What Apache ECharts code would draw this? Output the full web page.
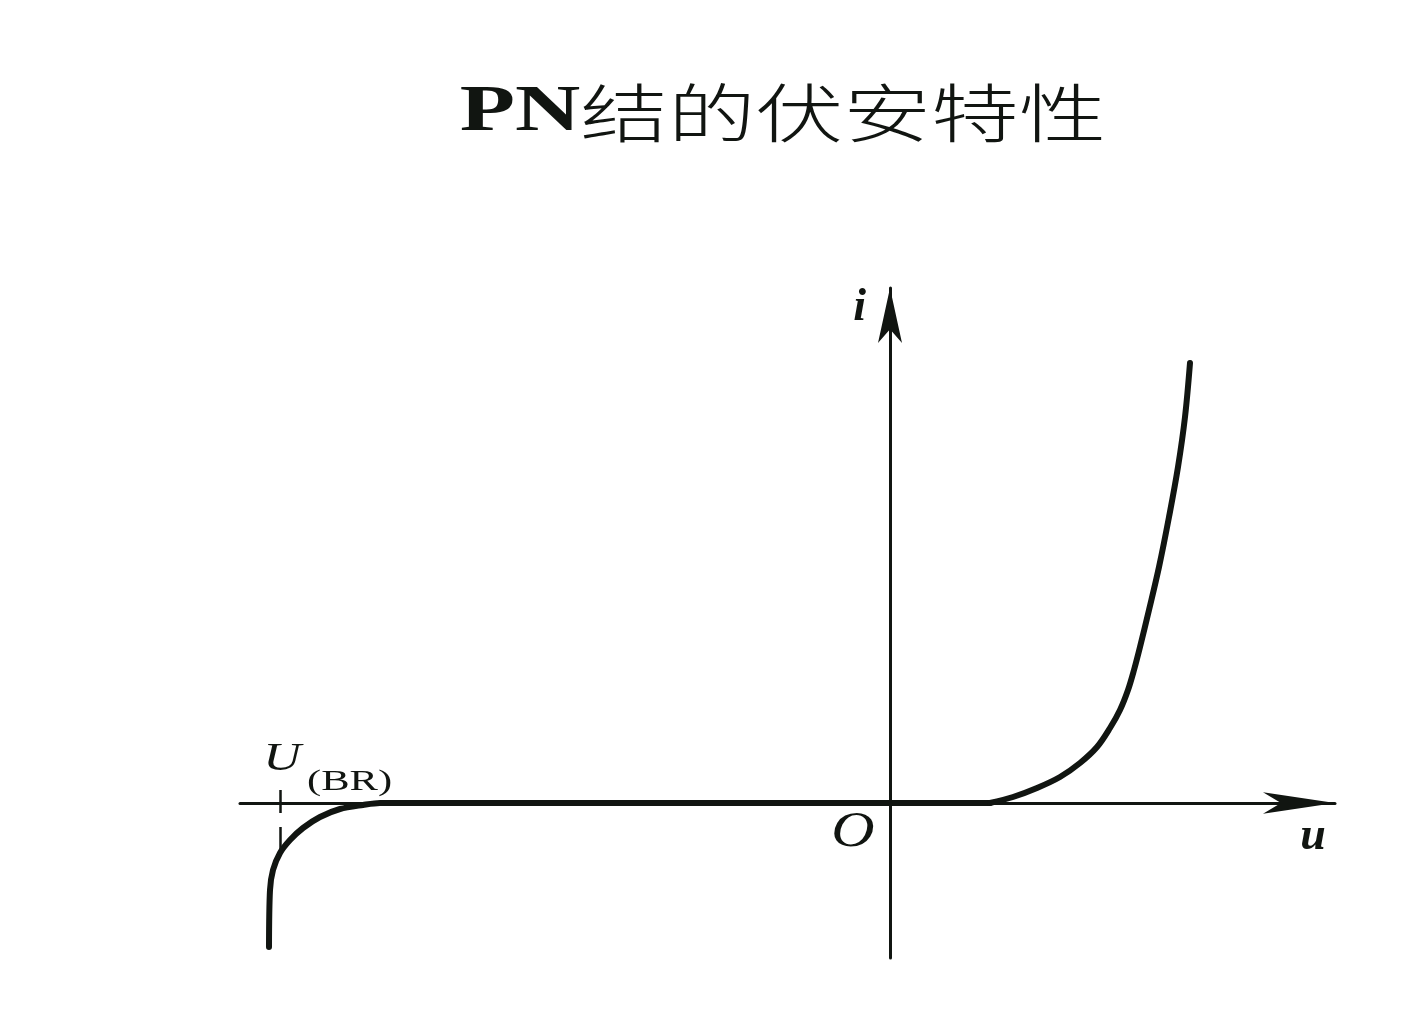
<!DOCTYPE html>
<html>
<head>
<meta charset="utf-8">
<script src="https://cdn.jsdelivr.net/npm/echarts@6/dist/echarts.min.js"></script>
<style>
html,body{margin:0;padding:0;background:#ffffff;}
#chart{width:1402px;height:1017px;}
</style>
</head>
<body>
<div id="chart"></div>
<script>
// ---- data (schematic units) ----
const titlePN = 'PN';
const titleCN = '结的伏安特性';
const xAxisName = 'u';
const yAxisName = 'i';
const originLabel = 'O';
const breakdownMain = 'U';
const breakdownSub = '(BR)';

// reverse branch: breakdown knee, then the flat (near-zero) reverse current
const reverseU = [-62.1, -62.0, -61.7, -61.0, -60.0, -58.7, -57.0, -55.0, -52.7, -51.0, 10.0];
const reverseI = [-14.4, -8.7, -6.7, -5.0, -3.7, -2.5, -1.4, -0.6, -0.2, 0, 0];

// forward branch
const forwardU = [10.0, 12.3, 14.7, 17.0, 19.0, 20.7, 22.0, 23.0, 23.8, 24.4, 25.0, 25.9, 26.9, 27.9, 28.8, 29.5, 30.0];
const forwardI = [0, 0.6, 1.5, 2.6, 4.0, 5.6, 7.5, 9.3, 11.3, 13.3, 15.6, 19.3, 23.6, 28.6, 33.6, 38.6, 44.0];

// breakdown voltage marker (dashed tick)
const breakdownU = -61;
const breakdownTickI = [1.3, -4.7];

// axis ranges
const uRange = [-65, 44.5];
const iRange = [-15.5, 51.5];

const ink = '#111511';
const zip = (a, b) => a.map((v, k) => [v, b[k]]);

const chart = echarts.init(document.getElementById('chart'), null, {renderer: 'canvas'});

const curveStyle = {color: ink, width: 6, cap: 'round', join: 'round'};

chart.setOption({
  backgroundColor: '#ffffff',
  animation: false,
  grid: {left: 240, top: 288, width: 1095, height: 670, containLabel: false, outerBoundsMode: 'none'},
  xAxis: {
    type: 'value', min: uRange[0], max: uRange[1],
    name: xAxisName, nameLocation: 'end', nameGap: -22, nameMoveOverlap: false,
    nameTextStyle: {fontFamily: 'Liberation Serif', fontStyle: 'italic', fontWeight: 'bold', fontSize: 46, color: ink,
      align: 'center', verticalAlign: 'top', lineHeight: 68},
    axisLine: {show: true, onZero: true, symbol: ['none', 'arrow'], symbolSize: [16, 72],
      lineStyle: {color: ink, width: 3}},
    axisTick: {show: false}, axisLabel: {show: false}, splitLine: {show: false}
  },
  yAxis: {
    type: 'value', min: iRange[0], max: iRange[1],
    name: yAxisName, nameLocation: 'end', nameGap: -20, nameMoveOverlap: false,
    nameTextStyle: {fontFamily: 'Liberation Serif', fontStyle: 'italic', fontWeight: 'bold', fontSize: 46, color: ink,
      align: 'right', verticalAlign: 'middle', padding: [0, 24, 0, 0]},
    axisLine: {show: true, onZero: true, symbol: ['none', 'arrow'], symbolSize: [18, 55],
      lineStyle: {color: ink, width: 3}},
    axisTick: {show: false}, axisLabel: {show: false}, splitLine: {show: false}
  },
  series: [
    {
      name: 'reverse', type: 'line', data: zip(reverseU, reverseI), smooth: 0.3,
      showSymbol: false, symbol: 'none', lineStyle: curveStyle, z: 5,
      markLine: {
        silent: true, symbol: ['none', 'none'], label: {show: false},
        lineStyle: {color: ink, width: 2.5, type: [23, 14]},
        data: [[{coord: [breakdownU, breakdownTickI[0]]}, {coord: [breakdownU, breakdownTickI[1]]}]]
      }
    },
    {
      name: 'forward', type: 'line', data: zip(forwardU, forwardI), smooth: 0.35,
      showSymbol: false, symbol: 'none', lineStyle: curveStyle, z: 5
    }
  ]
});

const o = chart.convertToPixel({gridIndex: 0}, [0, 0]);
const b = chart.convertToPixel({gridIndex: 0}, [breakdownU, 0]);
const serif = 'Liberation Serif';

chart.setOption({
  graphic: [
    {
      type: 'text', id: 'title', x: 783, y: 113, scaleX: 1.37,
      style: {
        text: '{pn|' + titlePN + '}{cn|' + titleCN + '}',
        align: 'center', verticalAlign: 'middle', fill: ink,
        rich: {
          pn: {fontFamily: serif, fontWeight: 'bold', fontSize: 66, fill: ink, color: ink},
          cn: {fontFamily: '"Noto Sans CJK SC"', fontWeight: 300, fontSize: 64, fill: ink, color: ink}
        }
      }
    },
    {
      type: 'text', id: 'origin', x: o[0] - 37, y: o[1] + 30, scaleX: 1.2,
      style: {text: originLabel, fontFamily: serif, fontStyle: 'italic', fontSize: 50, fill: ink,
        align: 'center', verticalAlign: 'middle'}
    },
    {
      type: 'text', id: 'bdU', x: b[0] + 2, y: b[1] - 44, scaleX: 1.3,
      style: {text: breakdownMain, fontFamily: serif, fontStyle: 'italic', fontSize: 40, fill: ink,
        align: 'center', verticalAlign: 'middle'}
    },
    {
      type: 'text', id: 'bdSub', x: b[0] + 27, y: b[1] - 21, scaleX: 1.42,
      style: {text: breakdownSub, fontFamily: serif, fontSize: 30, fill: ink,
        align: 'left', verticalAlign: 'middle'}
    }
  ]
});
</script>
</body>
</html>
